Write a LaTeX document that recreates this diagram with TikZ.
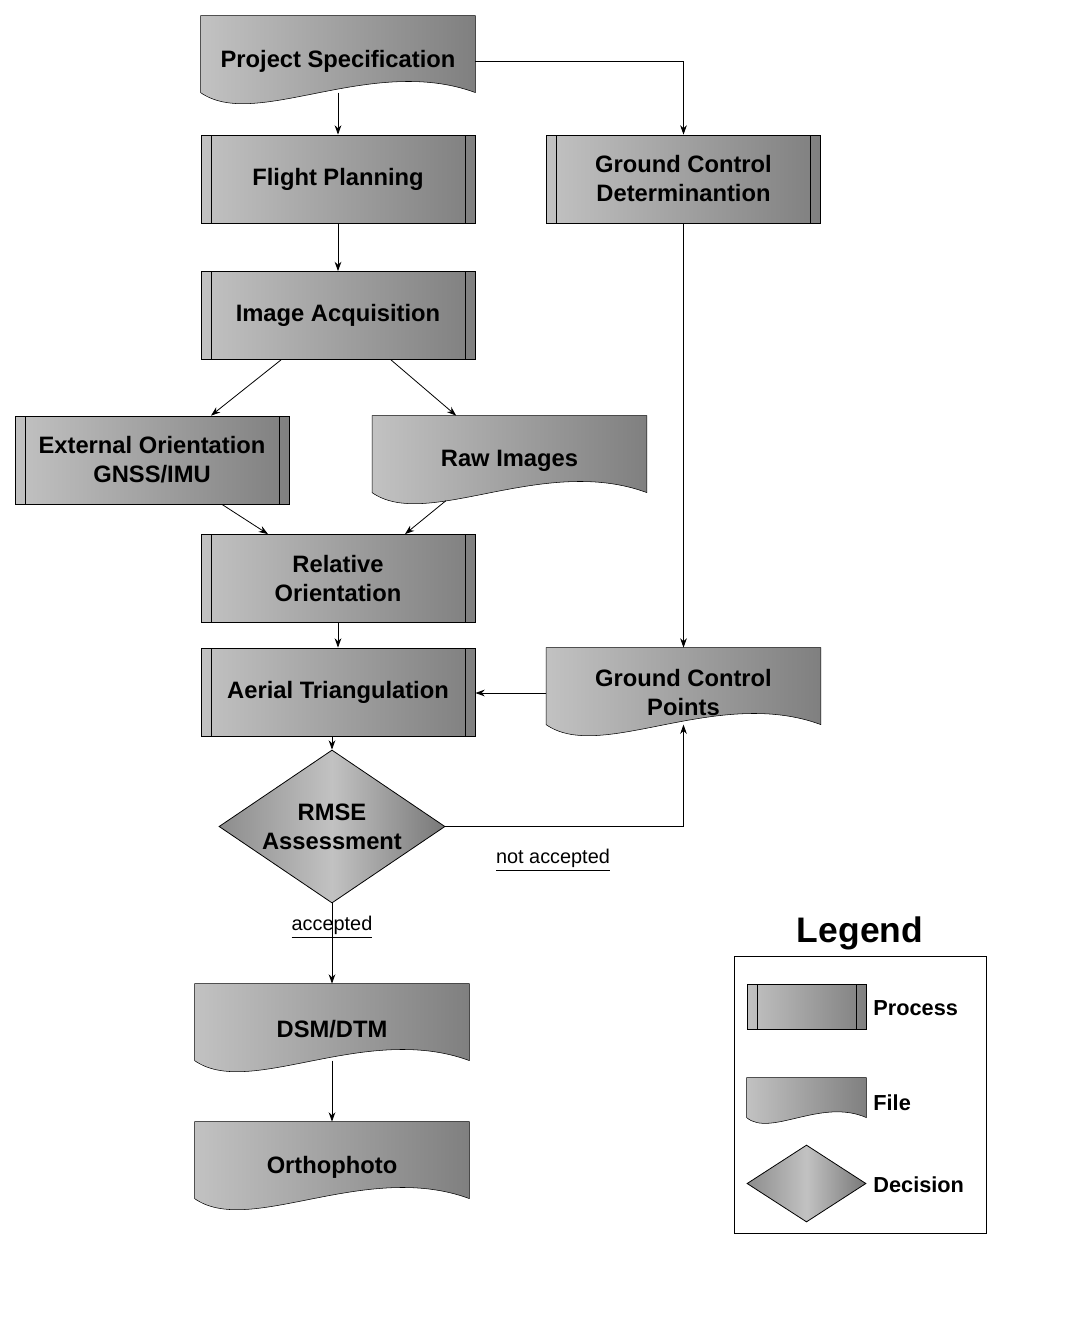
\documentclass[tikz,border=0pt]{standalone}
\usepackage{fontspec}
\setmainfont{Liberation Sans}
\usetikzlibrary{shapes.geometric,calc,backgrounds,arrows.meta}

\newcommand{\boxfont}{\fontsize{17.8}{21.75}\selectfont\bfseries}
\newcommand{\fileshape}[3]{%
  \path[fileshade] (#1.north west) -- (#1.north east) -- ++(0,-#3)
    .. controls +(-0.38*#2,0.5*#3) and +(0.2*#2,-0.5*#3) .. ($(#1.north west)+(0,-#3)$) -- cycle;
  \coordinate (#1-b) at ($(#1.north)+(0,-#3)$);
}

\begin{document}
\begin{tikzpicture}[x=0.75pt,y=-0.75pt,>={Stealth[length=7pt,width=5pt]},line width=0.6pt,
  process/.style={draw,left color=black!24,right color=black!50,minimum width=205.5pt,
    minimum height=66pt,align=center,font=\boxfont,
    path picture={
      \draw ([xshift=7.5pt]path picture bounding box.north west) -- ([xshift=7.5pt]path picture bounding box.south west);
      \draw ([xshift=-7.5pt]path picture bounding box.north east) -- ([xshift=-7.5pt]path picture bounding box.south east);
    }},
  file/.style={minimum width=205.5pt,minimum height=67.5pt,inner sep=0pt,align=center,font=\boxfont},
  fileshade/.style={draw,left color=black!24,right color=black!50},
  decision/.style={diamond,draw,left color=black!45,right color=black!53,middle color=black!24,
    minimum width=169.5pt,minimum height=114.75pt,aspect=1.48,inner sep=0pt,align=center,font=\boxfont},
  edgelabel/.style={font=\fontsize{14.9}{18}\selectfont},
  legendlabel/.style={anchor=west,inner sep=0pt,font=\fontsize{16.3}{19}\selectfont\bfseries}]
\useasboundingbox (0,0) rectangle (1070,1325);

\node[file] (ps) at (338,61) {Project Specification};
\node[process] (fp) at (338,179) {Flight Planning};
\node[process] (gcd) at (683.5,179) {Ground Control\\Determinantion};
\node[process] (ia) at (338,315.5) {Image Acquisition};
\node[process] (eo) at (152,460) {External Orientation\\GNSS/IMU};
\node[file] (ri) at (509.5,461) {Raw Images};
\node[process] (ro) at (338,578.5) {Relative\\Orientation};
\node[process] (at) at (338,692) {Aerial Triangulation};
\node[file] (gcp) at (683.5,693) {Ground Control\\Points};
\node[decision] (rm) at (332,826.5) {RMSE\\Assessment};
\node[file] (dsm) at (332,1029) {DSM/DTM};
\node[file] (ortho) at (332,1167) {Orthophoto};

\node[edgelabel] (na) at (553,860) {\underline{not accepted}};
\node[edgelabel] (acc) at (332,927) {\underline{accepted}};

% legend
\node[font=\fontsize{26.6}{30}\selectfont\bfseries] (legend) at (860,933) {Legend};
\draw (734,956) rectangle (986,1233);
\node[process,minimum width=89.25pt,minimum height=33.75pt] (lproc) at (806.5,1006.5) {};
\node[file,minimum width=89.25pt,minimum height=30pt] (lfile) at (806.5,1098) {};
\node[decision,minimum width=89.25pt,minimum height=57.75pt,aspect=1.55] (ldec) at (806.5,1183.5) {};
\node[legendlabel] (lproct) at (873,1008) {Process};
\node[legendlabel] (lfilet) at (873,1103) {File};
\node[legendlabel] (ldect) at (873,1185) {Decision};

\begin{scope}[on background layer]
\fileshape{ps}{205.5pt}{57.75pt}
\fileshape{ri}{205.5pt}{57.75pt}
\fileshape{gcp}{205.5pt}{57.75pt}
\fileshape{dsm}{205.5pt}{57.75pt}
\fileshape{ortho}{205.5pt}{57.75pt}
\fileshape{lfile}{89.25pt}{30pt}
\end{scope}

\draw[->] (ps-b) -- (fp.north);
\draw[->] (ps.east) -| (gcd.north);
\draw[->] (fp) -- (ia);
\draw[->] ([xshift=-42.75pt]ia.south) -- ([xshift=44.25pt]eo.north);
\draw[->] ([xshift=39.75pt]ia.south) -- ([xshift=-40pt]ri.north);
\draw[->] ([xshift=52.5pt]eo.south) -- ([xshift=-52.5pt]ro.north);
\draw[->] ([xshift=-47.6pt,yshift=-6pt]ri-b) -- ([xshift=50.25pt]ro.north);
\draw[->] (ro) -- (at);
\draw[->] (gcd) -- (gcp.north);
\draw[->] (gcp.west) -- (gcp.west -| at.east);
\draw[->] (rm.north |- at.south) -- (rm.north);
\draw[->] (rm.east) -| (gcp-b);
\draw[->] (rm.south) -- (dsm.north);
\draw[->] (dsm-b) -- (ortho.north);
\end{tikzpicture}
\end{document}
